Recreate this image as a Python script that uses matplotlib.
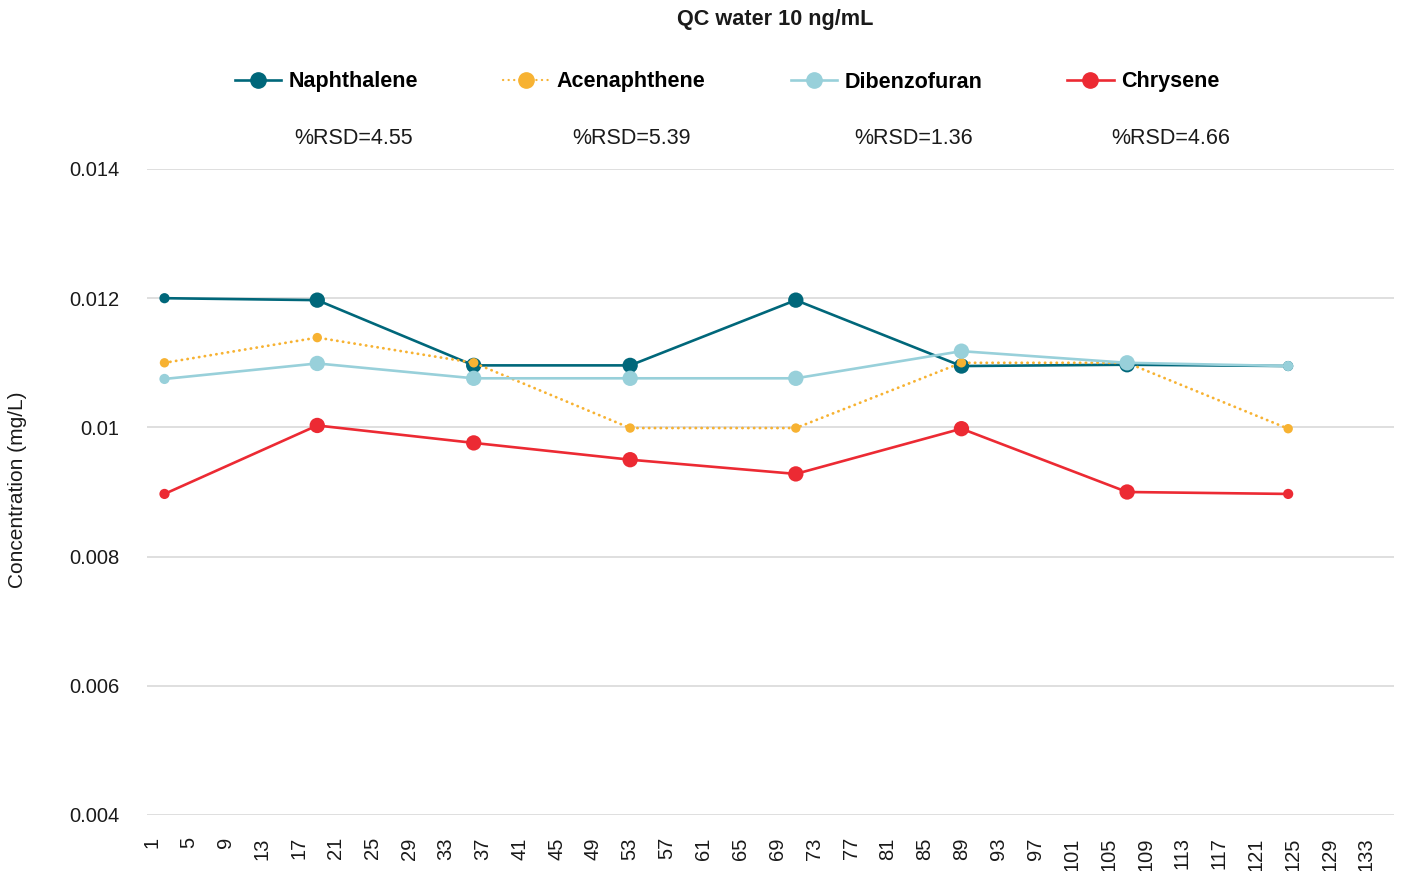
import matplotlib
matplotlib.use("Agg")
import matplotlib.pyplot as plt
from matplotlib.lines import Line2D

plt.rcParams['font.family'] = ['Liberation Sans', 'DejaVu Sans']

# ---- data ----
title = "QC water 10 ng/mL"
ylabel = "Concentration (mg/L)"
runs = [2.4, 19, 36, 53, 71, 89, 107, 124.5]
series_names = ["Naphthalene", "Acenaphthene", "Dibenzofuran", "Chrysene"]
naphthalene = [0.01200, 0.01197, 0.01096, 0.01096, 0.01197, 0.01095, 0.01097, 0.01095]
acenaphthene = [0.01100, 0.01139, 0.01100, 0.00999, 0.00999, 0.01100, 0.01100, 0.00998]
dibenzofuran = [0.01075, 0.01099, 0.01076, 0.01076, 0.01076, 0.01118, 0.01100, 0.01095]
chrysene = [0.00897, 0.01003, 0.00976, 0.00950, 0.00928, 0.00998, 0.00900, 0.00897]
rsd_labels = ["%RSD=4.55", "%RSD=5.39", "%RSD=1.36", "%RSD=4.66"]
y_ticks = [0.004, 0.006, 0.008, 0.010, 0.012, 0.014]
x_ticks = list(range(1, 134, 4))

# ---- styles ----
colors = ["#00677A", "#F7B232", "#98D0DA", "#EC2A33"]
W, H = 1401, 871
fig = plt.figure(figsize=(W / 100, H / 100), dpi=100)
ax = fig.add_axes([147 / W, (H - 815) / H, 1247 / W, (815 - 169) / H])

all_series = [naphthalene, acenaphthene, dibenzofuran, chrysene]
big, small = 122.0, 54.0
handles = []
for i, (name, vals, c) in enumerate(zip(series_names, all_series, colors)):
    z = 3 + i
    if name == "Acenaphthene":
        ax.plot(runs, vals, color=c, lw=2.0, linestyle=(0, (0.1, 2.0)),
                dash_capstyle='round', zorder=z)
        sizes = [small * 0.85] * len(vals)
        h = Line2D([], [], color=c, lw=1.6, linestyle=(0, (0.1, 2.4)),
                   dash_capstyle='round', marker='o', markersize=11)
    else:
        ax.plot(runs, vals, color=c, lw=1.9, zorder=z)
        sizes = [small] + [big] * (len(vals) - 2) + [small]
        h = Line2D([], [], color=c, lw=1.9, marker='o', markersize=11)
    ax.scatter(runs, vals, s=sizes, color=c, zorder=z + 0.5, linewidths=0)
    handles.append(h)

ax.set_xlim(0.5, 136)
ax.set_ylim(0.004, 0.014)
ax.set_yticks(y_ticks)
ax.set_yticklabels([f"{v:g}" for v in y_ticks])
ax.set_xticks(x_ticks)
ax.set_xticklabels([str(v) for v in x_ticks], rotation=90)
ax.tick_params(axis='y', length=0, pad=20, labelsize=14.5, labelcolor='#1a1a1a')
ax.tick_params(axis='x', length=0, pad=16, labelsize=14.5, labelcolor='#1a1a1a')
for s in ax.spines.values():
    s.set_visible(False)
ax.grid(axis='y', color='#D9D9D9', lw=1.2, zorder=0)
ax.set_axisbelow(True)

fig.text(18 / W, 1 - 490 / H, ylabel, rotation=90, ha='center', va='center',
         fontsize=15, color='#1a1a1a')
fig.text(775 / W, 1 - 19 / H, title, ha='center', va='center',
         fontsize=15.6, fontweight='bold', color='#1a1a1a')

leg = fig.legend(handles, series_names, loc='center', ncol=4,
                 bbox_to_anchor=(727 / W, 1 - 82 / H), frameon=False,
                 prop={'size': 15.5, 'weight': 'bold'},
                 handlelength=2.15, handletextpad=0.35, columnspacing=3.95)

fig.canvas.draw()
renderer = fig.canvas.get_renderer()
for t, lab in zip(leg.get_texts(), rsd_labels):
    bb = t.get_window_extent(renderer)
    cx = (bb.x0 + bb.x1) / 2
    fig.text(cx / W, 1 - 138.5 / H, lab, ha='center', va='center',
             fontsize=15.5, color='#1a1a1a')

fig.savefig("out.png", dpi=100)
